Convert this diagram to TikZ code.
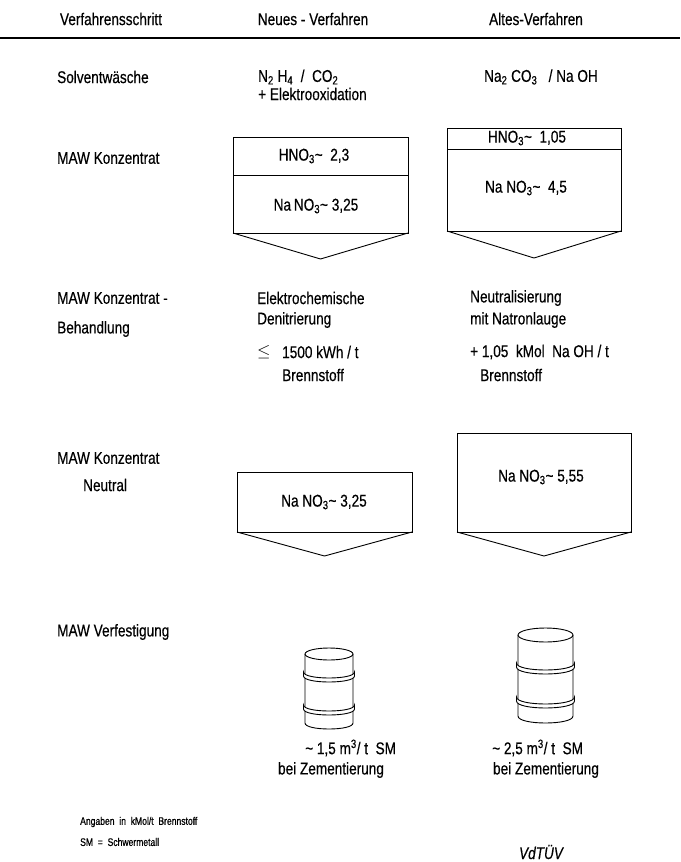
\documentclass[tikz,border=0pt]{standalone}
\usepackage{fontspec}
\setmainfont{Liberation Sans}[FakeStretch=0.8,FakeBold=0.4]
\newfontfamily\notefont{Liberation Sans}[FakeStretch=0.78,FakeBold=0.6]
\newcommand\sub[1]{\textsubscript{#1}}
\newcommand\apx{\textasciitilde}
% arrow-shaped container: left x, right x, top y, bottom y, tip y
\newcommand\flowbox[5]{%
  \draw[outline] (#1,#3) rectangle (#2,#4);
  \draw[outline] (#1,#4) -- ({(#1+#2)/2},#5) -- (#2,#4);}
% drum band: centre x, radius x, radius y, y of the band ends
\newcommand\drumband[4]{%
  \draw[outline,fill=white] ({#1-#2-1.5},#4)
    .. controls ({#1-#2-1.5},{#4+1.333*#3}) and ({#1+#2+1.5},{#4+1.333*#3}) .. ({#1+#2+1.5},#4)
    -- ({#1+#2+1.5},{#4+4})
    .. controls ({#1+#2+1.5},{#4+4+1.333*#3}) and ({#1-#2-1.5},{#4+4+1.333*#3}) .. ({#1-#2-1.5},{#4+4})
    -- cycle;}
% drum: centre x, radius x, radius y, lid y, base y, band 1 y, band 2 y
\newcommand\drum[7]{%
  \draw[outline] ({#1-#2},#4) -- ({#1-#2},#5)
    .. controls ({#1-#2},{#5+1.333*#3}) and ({#1+#2},{#5+1.333*#3}) .. ({#1+#2},#5)
    -- ({#1+#2},#4);
  \draw[outline] (#1,#4) ellipse [x radius=#2, y radius=#3];
  \drumband{#1}{#2}{#3}{#6}
  \drumband{#1}{#2}{#3}{#7}}
\begin{document}
\begin{tikzpicture}[x=1pt,y=-1pt,
  txt/.style={inner sep=0pt, font=\fontsize{17}{19}\selectfont},
  lt/.style={txt, anchor=west},
  note/.style={inner sep=0pt, anchor=west, font=\notefont\fontsize{11}{13}\selectfont},
  outline/.style={line width=0.9pt, line join=miter},
]
\fill[white] (0,0) rectangle (680,862);
\useasboundingbox (0,0) rectangle (680,862);

% column heads
\node[txt] (hstep) at (111,19) {Verfahrensschritt};
\node[txt] (hnew) at (313,19) {Neues - Verfahren};
\node[txt] (hold) at (536,19) {Altes-Verfahren};
\draw[line width=1.3pt] (0,38) -- (680,38);

% solvent wash
\node[lt] (s1) at (57,77) {Solventwäsche};
\node[lt] (s2) at (258,77) {N\sub{2} H\sub{4} \ / \ CO\sub{2}};
\node[lt] (s3) at (258,94) {+ Elektrooxidation};
\node[lt] (s4) at (484,77) {Na\sub{2} CO\sub{3} \ \ / Na OH};

% MAW concentrate
\node[lt] (c1) at (57,158) {MAW Konzentrat};
\flowbox{233}{408}{137}{233}{259}
\draw[outline] (233,175) -- (408,175);
\node[txt] (c2) at (314,156) {HNO\sub{3}\apx\ \ 2,3};
\node[txt] (c3) at (316,206) {Na\,NO\sub{3}\apx\ 3,25};
\flowbox{447}{621}{128}{231}{258}
\draw[outline] (447,149) -- (621,149);
\node[txt] (c4) at (527,138) {HNO\sub{3}\apx\ \ 1,05};
\node[txt] (c5) at (526,188) {Na NO\sub{3}\apx\ \ 4,5};

% treatment
\node[lt] (t1) at (57,298) {MAW Konzentrat -};
\node[lt] (t2) at (57,329) {Behandlung};
\node[lt] (t3) at (257,298) {Elektrochemische};
\node[lt] (t4) at (257,320) {Denitrierung};
\node[lt] (t5) at (257,352) {$\leq$};
\node[lt] (t6) at (282,352) {1500 kWh / t};
\node[lt] (t7) at (282,375) {Brennstoff};
\node[lt] (t8) at (470,298) {Neutralisierung};
\node[lt] (t9) at (470,320) {mit Natronlauge};
\node[lt] (t10) at (470,352) {+ 1,05 \ kMol \ Na OH / t};
\node[lt] (t11) at (480,375) {Brennstoff};

% neutral concentrate
\node[lt] (n1) at (57,458) {MAW Konzentrat};
\node[lt] (n2) at (83,485) {Neutral};
\flowbox{237}{412}{472}{532}{556}
\node[txt] (n3) at (324,502) {Na NO\sub{3}\apx\ 3,25};
\flowbox{457}{631}{433}{532}{556}
\node[txt] (n4) at (541,477) {Na NO\sub{3}\apx\ 5,55};

% solidification
\node[lt] (v1) at (57,632) {MAW Verfestigung};
\drum{329}{24}{6}{654}{723}{672}{705}
\drum{545.5}{27.5}{7}{635}{716}{663}{697}
\node[lt] (v2) at (305,748) {\apx\ 1,5 m\textsuperscript{3}/ t \ SM};
\node[txt] (v3) at (331,770) {bei Zementierung};
\node[lt] (v4) at (492,748) {\apx\ 2,5 m\textsuperscript{3}/ t \ SM};
\node[txt] (v5) at (546,770) {bei Zementierung};

% notes
\node[note] (f1) at (80,822) {Angaben \ in \ kMol/t \ Brennstoff};
\node[note] (f2) at (80,842) {SM \ = \ Schwermetall};
\node[inner sep=0pt, font=\itshape\fontsize{17}{19}\selectfont] (logo) at (541,852) {VdTÜV};
\end{tikzpicture}
\end{document}
